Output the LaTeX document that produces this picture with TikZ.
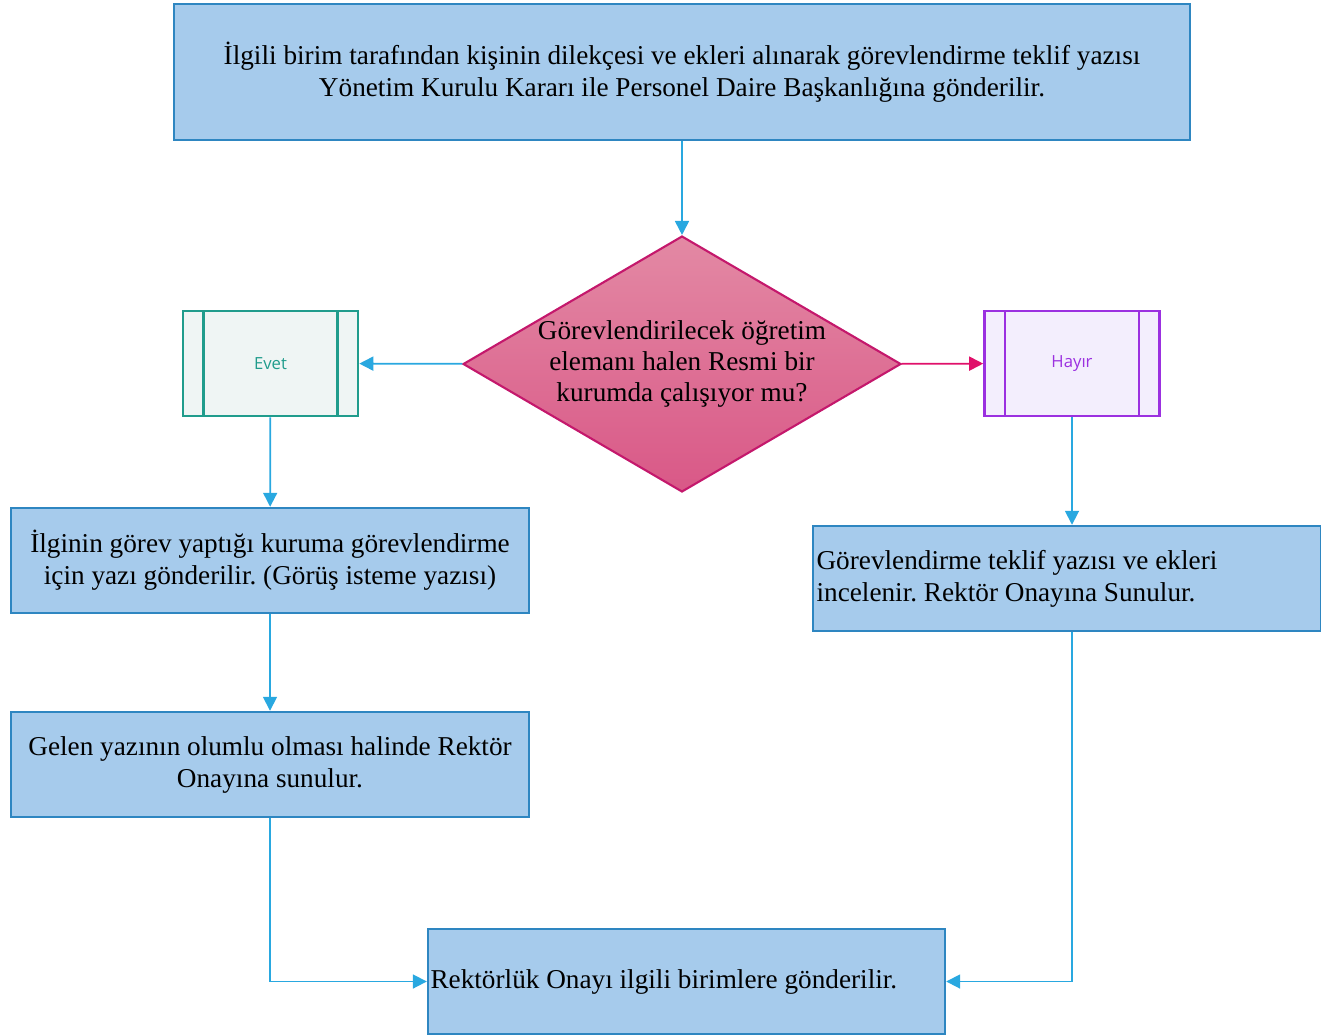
\documentclass[tikz,border=0pt]{standalone}
\usepackage{fontspec}
\setmainfont{Liberation Serif}
\newfontfamily\tagfont{Open Sans}
\usetikzlibrary{shapes.geometric,arrows.meta}
\frenchspacing

\definecolor{boxfill}{RGB}{166,203,236}
\definecolor{boxline}{RGB}{46,134,193}
\definecolor{linkblue}{RGB}{41,168,224}
\definecolor{diamtop}{RGB}{227,137,164}
\definecolor{diambot}{RGB}{217,88,135}
\definecolor{diamline}{RGB}{196,24,108}
\definecolor{yesline}{RGB}{32,156,140}
\definecolor{yesfill}{RGB}{239,245,244}
\definecolor{noline}{RGB}{155,48,224}
\definecolor{nofill}{RGB}{243,238,253}
\definecolor{nolink}{RGB}{224,16,106}

\begin{document}
\begin{tikzpicture}[x=0.02cm,y=-0.02cm,
  box/.style={draw=boxline,fill=boxfill,line width=1.4pt,inner sep=0pt,
    font=\fontsize{15.5}{18.2}\selectfont},
  decision/.style={shape=diamond,draw=diamline,line width=1.2pt,inner sep=0pt,
    top color=diamtop,bottom color=diambot,minimum width=8.76cm,minimum height=5.12cm},
  sidebox/.style={draw=#1line,fill=#1fill,line width=1.5pt,inner sep=0pt,
    minimum width=3.5cm,minimum height=2.1cm,text=#1line,font=\tagfont\fontsize{9.5}{11}\selectfont,
    path picture={\draw[#1line,line width=1.5pt]
      ([xshift=0.41cm]path picture bounding box.north west) -- ([xshift=0.41cm]path picture bounding box.south west)
      ([xshift=-0.41cm]path picture bounding box.north east) -- ([xshift=-0.41cm]path picture bounding box.south east);}},
  link/.style={draw=linkblue,line width=1pt,-{Triangle[length=0.28cm,width=0.28cm]}}]
\useasboundingbox (0,0) rectangle (1321,1034);

\node[box,minimum width=20.32cm,minimum height=2.72cm,align=center] (top) at (682,72)
  {İlgili birim tarafından kişinin dilekçesi ve ekleri alınarak görevlendirme teklif yazısı\\
   Yönetim Kurulu Kararı ile Personel Daire Başkanlığına gönderilir.};

\node[decision] (q) at (682,364) {};
\node[align=center,font=\fontsize{15.5}{17.6}\selectfont] (qtext) at (q)
  {Görevlendirilecek öğretim\\elemanı halen Resmi bir\\kurumda çalışıyor mu?};

\node[sidebox=yes] (yes) at (270.5,363.5) {Evet};
\node[sidebox=no] (no) at (1072,363.5) {Hayır};

\node[box,minimum width=10.36cm,minimum height=2.1cm,align=center] (l1) at (270,560.5)
  {İlginin görev yaptığı kuruma görevlendirme\\için yazı gönderilir. (Görüş isteme yazısı)};
\node[box,minimum width=10.36cm,minimum height=2.1cm,align=center] (l2) at (270,764.5)
  {Gelen yazının olumlu olması halinde\ Rektör\\Onayına sunulur.};

\node[box,minimum height=2.1cm,text width=10.02cm,inner xsep=0.07cm,align=flush left] (r1) at (1067,578.5)
  {Görevlendirme teklif yazısı ve ekleri\\incelenir. Rektör Onayına Sunulur.};

\node[box,minimum height=2.1cm,text width=10.24cm,inner xsep=0.05cm,align=flush left] (end) at (686.5,981.5)
  {Rektörlük Onayı ilgili birimlere gönderilir.};

\draw[link] (top) -- (q);
\draw[link] (q) -- (yes);
\draw[link,draw=nolink,fill=nolink] (q) -- (no);
\draw[link] (yes) -- (l1);
\draw[link] (l1) -- (l2);
\draw[link] (l2) |- (end);
\draw[link] (no.south) -- (no.south |- r1.north);
\draw[link] (r1.south -| no.south) |- (end);
\end{tikzpicture}
\end{document}
